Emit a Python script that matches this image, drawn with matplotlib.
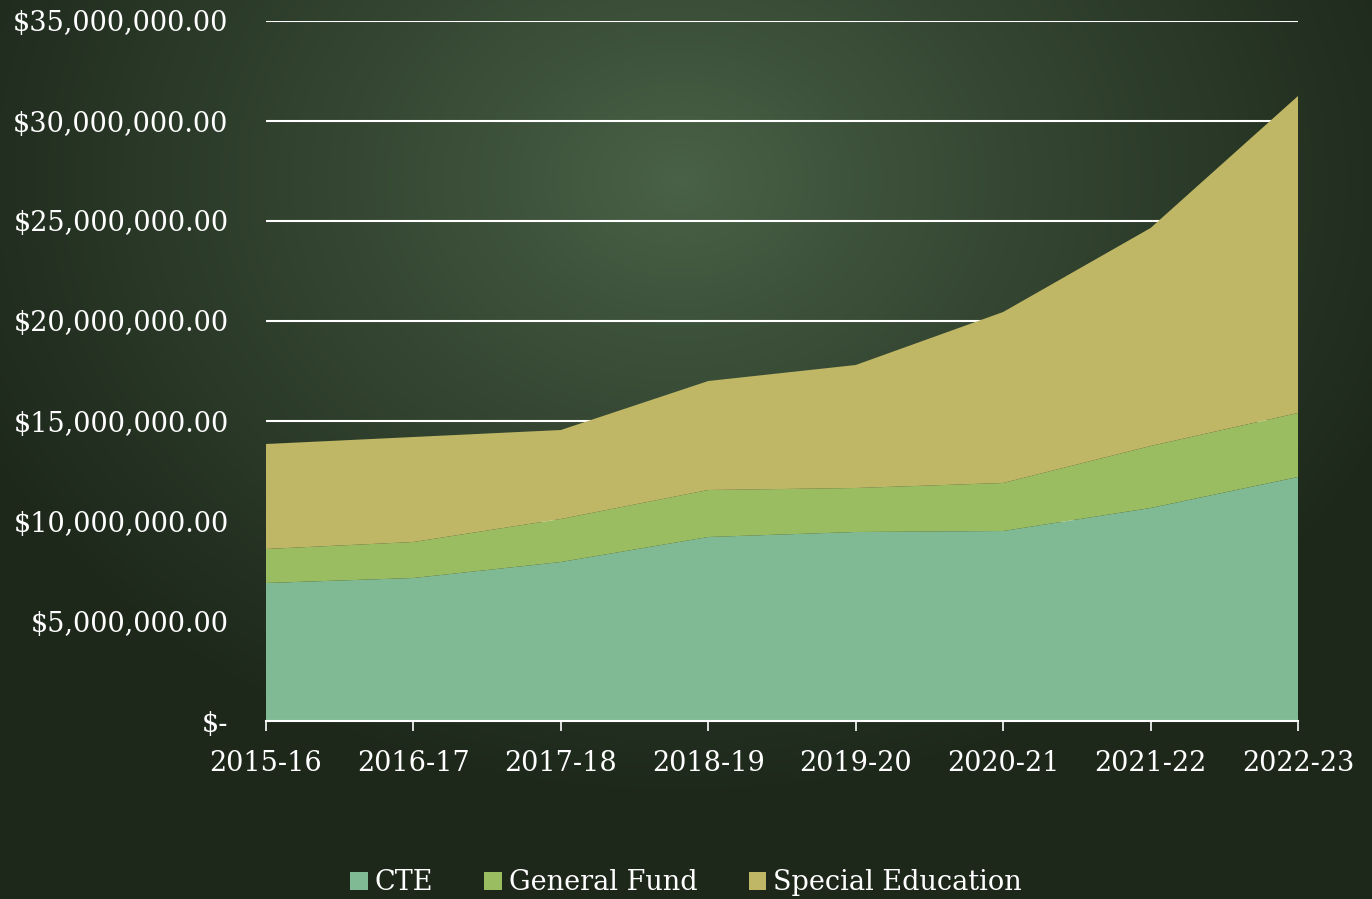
import matplotlib.pyplot as plt
import numpy as np
from matplotlib.ticker import FuncFormatter, MultipleLocator

# === DATA ===
years = ["2015-16", "2016-17", "2017-18", "2018-19",
         "2019-20", "2020-21", "2021-22", "2022-23"]
cte = [6.9e6, 7.15e6, 7.95e6, 9.2e6, 9.45e6, 9.5e6, 10.65e6, 12.2e6]
general_fund = [1.7e6, 1.8e6, 2.15e6, 2.35e6, 2.2e6, 2.4e6, 3.1e6, 3.2e6]
special_ed = [5.25e6, 5.25e6, 4.45e6, 5.45e6, 6.15e6, 8.55e6, 10.9e6, 15.85e6]

labels = ["CTE", "General Fund", "Special Education"]
colors = ["#80ba94", "#9bbd62", "#bfb766"]

font = ["DejaVu Serif"]
W, H = 1372, 899

fig = plt.figure(figsize=(W / 100, H / 100), dpi=100)

# background: dark green with a lighter centre
bg = fig.add_axes([0, 0, 1, 1])
yy, xx = np.mgrid[0:H, 0:W]
d = np.sqrt(((xx - 680) / 780.0) ** 2 + ((yy - 180) / 620.0) ** 2)
d = np.clip(d, 0, 1) ** 0.9
c_in = np.array([0x4a, 0x62, 0x47]) / 255.0
c_out = np.array([0x1d, 0x28, 0x1b]) / 255.0
img = c_in[None, None, :] * (1 - d[..., None]) + c_out[None, None, :] * d[..., None]
bg.imshow(img, aspect="auto", extent=[0, 1, 0, 1])
bg.axis("off")

ax = fig.add_axes([266 / W, 1 - 721 / H, (1298 - 266) / W, (721 - 21) / H])
ax.patch.set_alpha(0)
x = np.arange(len(years))
ax.stackplot(x, cte, general_fund, special_ed, colors=colors, labels=labels,
             linewidth=0, zorder=2)

ax.set_xlim(0, len(years) - 1)
ax.set_ylim(0, 35e6)
ax.yaxis.set_major_locator(MultipleLocator(5e6))
ax.yaxis.set_major_formatter(FuncFormatter(
    lambda v, p: "$-" if v == 0 else "${:,.2f}".format(v)))
ax.set_xticks(x)
ax.set_xticklabels(years)
ax.grid(axis="y", color="white", linewidth=1.5, zorder=1)
ax.set_axisbelow(True)

for s in ["top", "right", "left"]:
    ax.spines[s].set_visible(False)
ax.spines["bottom"].set_color("white")
ax.spines["bottom"].set_linewidth(1.5)
ax.spines["bottom"].set_zorder(3)
ax.tick_params(axis="x", colors="white", length=7, width=1.2, pad=14,
               labelsize=19.5)
ax.tick_params(axis="y", colors="#d9d9d9", length=0, pad=27, labelsize=19.5)
for t in ax.get_xticklabels() + ax.get_yticklabels():
    t.set_family(font)
    t.set_color("white")

leg = fig.legend(loc="center", bbox_to_anchor=(0.5, 1 - 883 / H), ncol=3,
                 frameon=False, handlelength=0.65, handleheight=0.65,
                 handletextpad=0.25, columnspacing=1.9,
                 prop={"family": font, "size": 19.5})
for t in leg.get_texts():
    t.set_color("white")

fig.savefig("out.png", dpi=100)
